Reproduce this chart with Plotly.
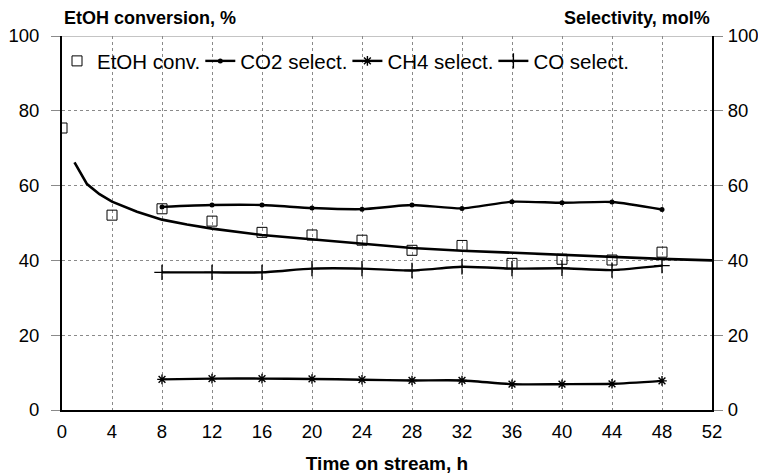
import plotly.graph_objects as go

# ---- data ----
hours = [0, 4, 8, 12, 16, 20, 24, 28, 32, 36, 40, 44, 48]
etoh_conv = [75.4, 52.1, 53.8, 50.5, 47.5, 46.8, 45.4, 42.7, 44.0, 39.2, 40.3, 40.1, 42.2]

sel_hours = [8, 12, 16, 20, 24, 28, 32, 36, 40, 44, 48]
co2_sel = [54.3, 54.8, 54.8, 54.0, 53.7, 54.8, 53.9, 55.7, 55.4, 55.6, 53.6]
ch4_sel = [8.2, 8.4, 8.4, 8.3, 8.1, 7.9, 7.9, 6.9, 6.9, 7.0, 7.8]
co_sel = [36.8, 36.8, 36.8, 37.8, 37.8, 37.3, 38.3, 37.8, 37.9, 37.4, 38.6]

trend_hours = [1, 2, 3, 4, 6, 8, 10, 12, 16, 20, 24, 28, 32, 36, 40, 44, 48, 52]
trend_conv = [66.2, 60.4, 57.7, 55.7, 53.0, 50.9, 49.6, 48.5, 46.8, 45.6, 44.3, 43.3, 42.6, 42.0, 41.4, 40.9, 40.4, 40.0]

x_ticks = list(range(0, 53, 4))
y_ticks = [0, 20, 40, 60, 80, 100]

FONT = "Liberation Sans, Arial, sans-serif"

fig = go.Figure()

fig.add_trace(go.Scatter(
    x=trend_hours, y=trend_conv, mode="lines",
    line=dict(color="black", width=2.6), showlegend=False, hoverinfo="skip"))

fig.add_trace(go.Scatter(
    x=hours, y=etoh_conv, mode="markers", name="EtOH conv.",
    marker=dict(symbol="square-open", size=10, color="black", line=dict(width=1, color="black"))))

fig.add_trace(go.Scatter(
    x=sel_hours, y=co2_sel, mode="lines+markers", name="CO2 select.", yaxis="y2",
    line=dict(color="black", width=2.4, shape="spline", smoothing=0.6),
    marker=dict(symbol="circle", size=5, color="black")))

fig.add_trace(go.Scatter(
    x=sel_hours, y=ch4_sel, mode="lines+markers", name="CH4 select.", yaxis="y2",
    line=dict(color="black", width=2.4, shape="spline", smoothing=0.6),
    marker=dict(symbol="asterisk-open", size=8, color="black", line=dict(width=1.4, color="black"))))

fig.add_trace(go.Scatter(
    x=sel_hours, y=co_sel, mode="lines+markers", name="CO select.", yaxis="y2",
    line=dict(color="black", width=2.4, shape="spline", smoothing=0.6),
    marker=dict(symbol="cross-thin-open", size=11, color="black", line=dict(width=1.4, color="black"))))

grid = dict(showgrid=True, gridcolor="#8a8a8a", gridwidth=1, griddash="3px,3px")

fig.update_layout(
    width=766, height=475,
    margin=dict(l=53.7, r=62.3, t=27.7, b=73, autoexpand=False),
    paper_bgcolor="white", plot_bgcolor="white",
    font=dict(family=FONT, size=19, color="black"),
    showlegend=True,
    legend=dict(orientation="h", x=0, xanchor="left",
                y=0.933, yanchor="middle", indentation=-5,
                bgcolor="rgba(0,0,0,0)", font=dict(size=20.5, family=FONT),
                itemwidth=30, tracegroupgap=0),
    xaxis=dict(range=[0, 52], tickvals=x_ticks, ticktext=[str(v) for v in x_ticks],
               showline=True, linecolor="black", linewidth=2, zeroline=False,
               ticks="", ticklabelstandoff=4, tickfont=dict(size=18.5),
               title=dict(text="<b>Time on stream, h</b>", font=dict(size=19), standoff=15),
               **grid),
    yaxis=dict(range=[0, 100], tickvals=y_ticks, showline=True, linecolor="black", linewidth=2,
               zeroline=False, ticks="outside", ticklen=9, tickcolor="#8a8a8a", tickwidth=1,
               ticklabelstandoff=8, tickfont=dict(size=18.5), **grid),
    yaxis2=dict(range=[0, 100], tickvals=y_ticks, overlaying="y", side="right",
                showline=True, linecolor="black", linewidth=2, zeroline=False, showgrid=False,
                ticks="outside", ticklen=9, tickcolor="#8a8a8a", tickwidth=1,
                ticklabelstandoff=1, tickfont=dict(size=18.5)),
    shapes=[dict(type="line", xref="paper", yref="y", x0=0, x1=1, y0=100, y1=100,
                 line=dict(color="#8a8a8a", width=1.2), layer="below")],
    annotations=[
        dict(text="<b>EtOH conversion, %</b>", xref="paper", yref="paper", x=0, y=1,
             xanchor="left", yanchor="bottom", yshift=6, showarrow=False, font=dict(size=18)),
        dict(text="<b>Selectivity, mol%</b>", xref="paper", yref="paper", x=1, y=1,
             xanchor="right", yanchor="bottom", yshift=6, showarrow=False, font=dict(size=18)),
    ],
)

fig.write_html("out.html")
